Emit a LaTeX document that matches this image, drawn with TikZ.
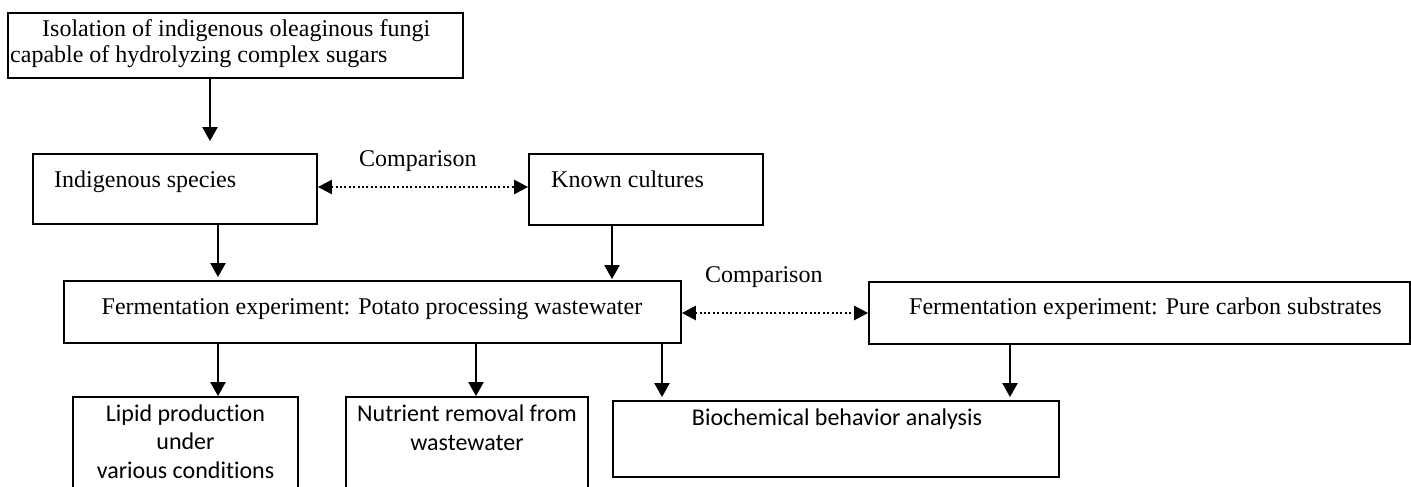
\documentclass[tikz,border=0pt]{standalone}
\usepackage{fontspec}
\setmainfont{Liberation Serif}
\newfontfamily\calfont[Ligatures=NoCommon]{Carlito}
\usetikzlibrary{arrows.meta}
\tikzset{
  box/.style={draw, line width=1.8pt, rectangle, inner sep=0pt},
  txt/.style={inner sep=0pt, font=\fontsize{24}{26}\selectfont, align=left},
  ctxt/.style={inner sep=0pt, font=\calfont\fontsize{24}{28.5}\selectfont, align=center},
  flow/.style={line width=2.2pt, -{Triangle[width=15pt,length=14pt]}},
  cmp/.style={line width=2.5pt, dash pattern=on 2pt off 2.4pt,
    {Triangle[width=14pt,length=14pt]}-{Triangle[width=14pt,length=14pt]}},
}
\begin{document}
\begin{tikzpicture}[x=1pt,y=-1pt]
\useasboundingbox (0,0) rectangle (1411,487);
\clip (0,0) rectangle (1411,487);

% boxes
\node[box, minimum width=455pt, minimum height=65pt] (top) at (235.5,45.5) {};
\node[box, minimum width=284pt, minimum height=70pt] (ind) at (175,189) {};
\node[box, minimum width=234pt, minimum height=71pt] (known) at (646,189.5) {};
\node[box, minimum width=617pt, minimum height=62pt] (ferm) at (372.5,312) {};
\node[box, minimum width=541pt, minimum height=62pt] (pure) at (1139.5,313) {};
\node[box, minimum width=225pt, minimum height=98pt] (lipid) at (185.5,446) {};
\node[box, minimum width=242pt, minimum height=98pt] (nutr) at (467,446) {};
\node[box, minimum width=446pt, minimum height=76pt] (bio) at (836,439) {};

% texts (base anchor of a multi-line node = baseline of its last line)
\node[txt, anchor=base west] (topT) at (10,63) {\hspace*{32pt}Isolation of indigenous oleaginous fungi\\capable of hydrolyzing complex sugars};
\node[txt, anchor=base west] (indT) at (54,187) {Indigenous species};
\node[txt, anchor=base west] (knownT) at (551,187) {Known cultures};
\node[txt, anchor=base west] (cmp1) at (359,166) {Comparison};
\node[txt, anchor=base] (fermT) at (372,314) {Fermentation experiment: Potato processing wastewater};
\node[txt, anchor=base west] (cmp2) at (705,282) {Comparison};
\node[txt, anchor=base] (pureT) at (1145.5,314) {Fermentation experiment: Pure carbon substrates};
\node[ctxt, anchor=base] (lipidT) at (185.5,478) {Lipid production\\under\\various conditions};
\node[ctxt, anchor=base] (nutrT) at (467,450) {Nutrient removal from\\wastewater};
\node[ctxt, anchor=base] (bioT) at (837,425) {Biochemical behavior analysis};

% flow arrows
\draw[flow] ([xshift=-25.5pt]top.south) -- ([xshift=35pt,yshift=12pt]ind.north);
\draw[flow] ([xshift=43pt]ind.south) -- ([xshift=-154.5pt,yshift=3pt]ferm.north);
\draw[flow] ([xshift=-34pt]known.south) -- ([xshift=239.5pt,yshift=1pt]ferm.north);
\draw[flow] ([xshift=-154.5pt]ferm.south) -- ([xshift=32.5pt]lipid.north);
\draw[flow] ([xshift=103.5pt]ferm.south) -- ([xshift=9pt]nutr.north);
\draw[flow] ([xshift=289.5pt]ferm.south) -- ([xshift=-174pt,yshift=3pt]bio.north);
\draw[flow] ([xshift=-129.5pt]pure.south) -- ([xshift=174pt,yshift=3pt]bio.north);

% comparison arrows
\draw[cmp] ([yshift=2pt]ind.east) -- ([yshift=2.5pt]known.west);
\draw[cmp] ([yshift=-1pt]ferm.east) -- ([yshift=-1pt]ferm.east -| pure.west);
\end{tikzpicture}
\end{document}
